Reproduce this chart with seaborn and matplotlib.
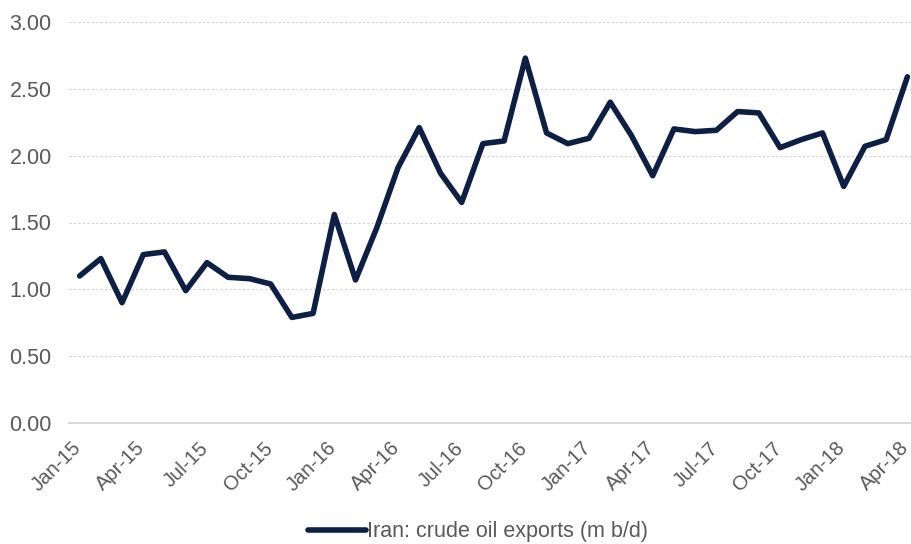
import matplotlib
matplotlib.use("Agg")
import matplotlib.pyplot as plt
import matplotlib.transforms as mtransforms
import seaborn as sns
import pandas as pd
import numpy as np

months = ["Jan-15","Feb-15","Mar-15","Apr-15","May-15","Jun-15","Jul-15","Aug-15","Sep-15","Oct-15","Nov-15","Dec-15",
          "Jan-16","Feb-16","Mar-16","Apr-16","May-16","Jun-16","Jul-16","Aug-16","Sep-16","Oct-16","Nov-16","Dec-16",
          "Jan-17","Feb-17","Mar-17","Apr-17","May-17","Jun-17","Jul-17","Aug-17","Sep-17","Oct-17","Nov-17","Dec-17",
          "Jan-18","Feb-18","Mar-18","Apr-18"]
exports = [1.10, 1.23, 0.90, 1.26, 1.28, 0.99, 1.20, 1.09, 1.08, 1.04, 0.79, 0.82,
           1.56, 1.07, 1.46, 1.91, 2.21, 1.87, 1.65, 2.09, 2.11, 2.73, 2.17, 2.09,
           2.13, 2.40, 2.15, 1.85, 2.20, 2.18, 2.19, 2.33, 2.32, 2.06, 2.12, 2.17,
           1.77, 2.07, 2.12, 2.59]
series_name = "Iran: crude oil exports (m b/d)"
yticks = [0.0, 0.5, 1.0, 1.5, 2.0, 2.5, 3.0]

df = pd.DataFrame({"idx": np.arange(len(months)), "month": months, "value": exports, "series": series_name})

sns.set_theme(style="white")
plt.rcParams['font.family'] = ['Liberation Sans', 'DejaVu Sans']

FS = 15.5
fig = plt.figure(figsize=(9.11, 5.44), dpi=100)
ax = fig.add_axes([69/911, 1-423/544, (918-69)/911, (423-22)/544])

sns.lineplot(data=df, x="idx", y="value", hue="series", palette=["#0e1f45"],
             linewidth=4.0, ax=ax, legend=True)
for ln in ax.lines:
    ln.set_solid_joinstyle("round")
    ln.set_solid_capstyle("round")

ax.set_xlim(-0.5, len(months) - 0.5)
ax.set_ylim(0, 3.0)
ax.set_yticks(yticks)
ax.set_yticklabels([f"{v:.2f}" for v in yticks], color="#595959", fontsize=FS)

label_pos = list(range(0, len(months), 3))
ax.set_xticks(label_pos)
ax.set_xticklabels([months[i] for i in label_pos], rotation=45, ha="right",
                   rotation_mode="anchor", color="#595959", fontsize=14.5)
ax.tick_params(axis="x", length=0, pad=11)
ax.tick_params(axis="y", length=0, pad=12.5)
offset = mtransforms.ScaledTranslation(-8/100, 0, fig.dpi_scale_trans)
for lbl in ax.get_xticklabels():
    lbl.set_transform(lbl.get_transform() + offset)

# minor ticks at category boundaries
ax.set_xticks(np.arange(-0.5, len(months), 3), minor=True)
ax.tick_params(axis="x", which="minor", length=5, width=1.2, color="#d9d9d9", direction="out")

ax.grid(axis="y", color="#d0d0d0", linestyle=(0, (2, 2)), linewidth=0.8)
ax.grid(axis="x", visible=False)
ax.set_axisbelow(True)
for s in ["top", "right", "left"]:
    ax.spines[s].set_visible(False)
ax.spines["bottom"].set_color("#d9d9d9")
ax.spines["bottom"].set_linewidth(1.5)
ax.set_xlabel("")
ax.set_ylabel("")

leg = ax.legend(loc="center", bbox_to_anchor=(478/911, 1-532/544), bbox_transform=fig.transFigure,
                frameon=False, fontsize=FS, handlelength=2.7, handletextpad=0.05)
for t in leg.get_texts():
    t.set_color("#595959")
for h in leg.get_lines():
    h.set_linewidth(4.0)
    h.set_solid_capstyle("round")

fig.savefig("out.png", dpi=100)
